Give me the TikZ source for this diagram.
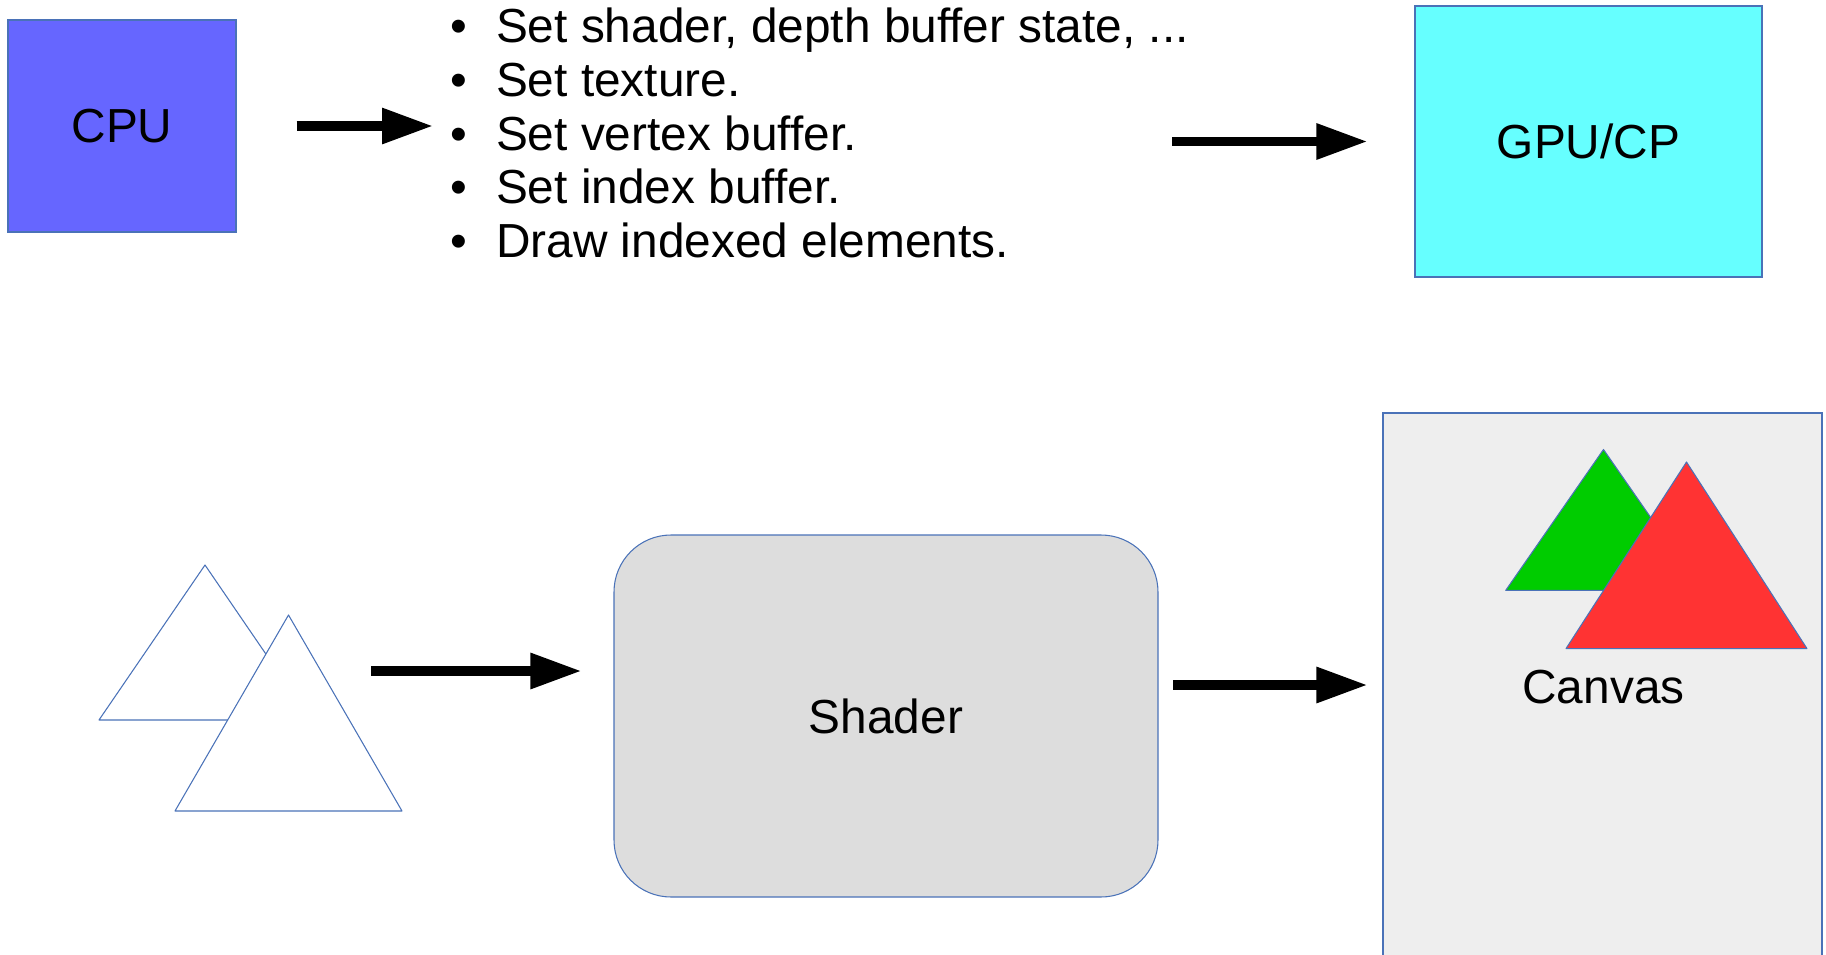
\documentclass[tikz,border=0pt]{standalone}
\usepackage{fontspec}
\setmainfont{Liberation Sans}
\usetikzlibrary{arrows.meta,positioning}

\definecolor{cpublue}{HTML}{6666FF}
\definecolor{gpucyan}{HTML}{66FFFF}
\definecolor{edgeblue}{HTML}{4A72B8}
\definecolor{shadergray}{HTML}{DDDDDD}
\definecolor{canvasgray}{HTML}{EEEEEE}
\definecolor{trigreen}{HTML}{00CC00}
\definecolor{trired}{HTML}{FF3333}

\tikzset{
  unit/.style={draw=edgeblue, line width=0.3pt, inner sep=0pt},
  flow/.style={line width=2.6pt, -{Triangle[length=0.51cm,width=0.34cm]}},
  tri/.style={draw=edgeblue, line width=0.3pt, line join=round},
}

\begin{document}
\begin{tikzpicture}[font=\fontsize{13.6pt}{15.3pt}\selectfont]
%\draw[gray!35] (0,0) grid (18,-9);
\useasboundingbox (0,0) rectangle (18.26,-9.55);
\clip (0,0) rectangle (18.26,-9.55);

% command stream
\node[unit, fill=cpublue, minimum width=2.28cm, minimum height=2.12cm] (cpu) at (1.22,-1.26) {CPU};
\node[unit, fill=gpucyan, minimum width=3.47cm, minimum height=2.71cm] (gpu) at (15.885,-1.415) {GPU/CP};
\node[inner sep=0pt, anchor=west, align=left] (list) at (4.50,-1.33) {%
  \textbullet\hspace{0.6em}Set shader, depth buffer state, ...\\
  \textbullet\hspace{0.6em}Set texture.\\
  \textbullet\hspace{0.6em}Set vertex buffer.\\
  \textbullet\hspace{0.6em}Set index buffer.\\
  \textbullet\hspace{0.6em}Draw indexed elements.};

\draw[flow, shorten <=0.6cm, shorten >=0.17cm] (cpu.east) -- (cpu.east -| list.west);
\draw[flow] ([xshift=-2.42cm]gpu.west) -- ([xshift=-0.47cm]gpu.west);

% input geometry
\draw[tri, fill=white] (0.99,-7.20) -- (2.05,-5.65) -- (3.11,-7.20) -- cycle;
\draw[tri, fill=white] (1.75,-8.11) -- (2.885,-6.15) -- (4.02,-8.11) -- cycle;
\coordinate (in) at (3.71,-6.71);

\node[unit, fill=shadergray, rounded corners=0.57cm, minimum width=5.44cm, minimum height=3.62cm] (shader) at (8.86,-7.16) {Shader};
\node[unit, fill=canvasgray, minimum width=4.39cm, minimum height=5.87cm] (canvas) at (16.025,-7.065) {};

\draw[flow, shorten >=0.32cm] (in) -- (in -| shader.west);
\coordinate (out) at (11.73,-6.85);
\draw[flow, shorten >=0.15cm] (out) -- (out -| canvas.west);

% rasterised result
\draw[tri, fill=trigreen] (15.057,-5.904) -- (16.035,-4.495) -- (17.013,-5.904) -- cycle;
\draw[tri, fill=trired] (15.66,-6.486) -- (16.865,-4.62) -- (18.07,-6.486) -- cycle;
\node (label) at (16.035,-6.87) {Canvas};

\end{tikzpicture}
\end{document}
